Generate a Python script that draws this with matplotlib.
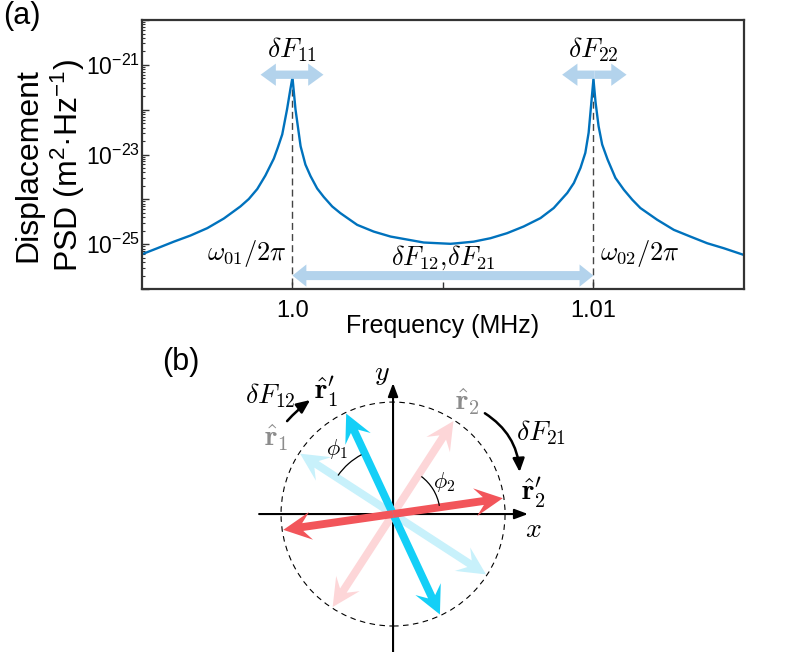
import numpy as np
import matplotlib.pyplot as plt
from matplotlib.patches import Circle, Arc, FancyArrowPatch
from matplotlib.ticker import LogLocator, NullFormatter

plt.rcParams['font.family'] = ['Liberation Sans', 'DejaVu Sans']
plt.rcParams['mathtext.fontset'] = 'cm'
# "custom" math set is only used for the sans tick labels / y label
plt.rcParams['mathtext.rm'] = 'Liberation Sans'
plt.rcParams['mathtext.it'] = 'Liberation Sans:italic'
plt.rcParams['mathtext.bf'] = 'Liberation Sans:bold'

# %% (a) displacement PSD
freq_mhz = [0.99500, 0.99551, 0.99606, 0.99661, 0.99717, 0.99772, 0.99827, 0.99855,
            0.99883, 0.99910, 0.99938, 0.99951, 0.99966, 0.99982, 0.99993, 1.00000,
            1.00010, 1.00027, 1.00043, 1.00060, 1.00082, 1.00104, 1.00132, 1.00159,
            1.00215, 1.00270, 1.00326, 1.00436, 1.00525, 1.00547, 1.00602, 1.00658,
            1.00713, 1.00768, 1.00824, 1.00868, 1.00913, 1.00935, 1.00957, 1.00973,
            1.00984, 1.01000, 1.01007, 1.01017, 1.01029, 1.01047, 1.01073, 1.01101,
            1.01129, 1.01156, 1.01212, 1.01267, 1.01322, 1.01378, 1.01433, 1.01500]
psd = [5.97e-26, 8.13e-26, 1.14e-25, 1.56e-25, 2.28e-25, 3.74e-25, 6.95e-25, 1.02e-24,
       1.70e-24, 3.40e-24, 8.10e-24, 1.41e-23, 2.81e-23, 1.02e-22, 2.86e-22, 5.22e-22,
       1.02e-22, 1.53e-23, 5.97e-24, 3.30e-24, 1.75e-24, 1.13e-24, 6.95e-25, 4.94e-25,
       2.70e-25, 1.91e-25, 1.48e-25, 1.09e-25, 1.02e-25, 1.05e-25, 1.14e-25, 1.36e-25,
       1.76e-25, 2.48e-25, 3.82e-25, 6.40e-25, 1.39e-24, 2.32e-24, 5.04e-24, 1.09e-23,
       3.06e-23, 4.79e-22, 1.46e-22, 4.31e-23, 1.67e-23, 7.73e-24, 3.01e-24, 1.64e-24,
       9.82e-25, 6.40e-25, 3.50e-25, 2.09e-25, 1.48e-25, 1.05e-25, 8.13e-26, 5.75e-26]
peak_freq = [1.0, 1.01]
peak_psd = [5.22e-22, 4.79e-22]
decades = [1e-26, 1e-25, 1e-24, 1e-23, 1e-22, 1e-21, 1e-20]
decade_labels = ['', r'$10^{-25}$', '', r'$10^{-23}$', '', r'$10^{-21}$', '']
xtick_vals = [1.0, 1.005, 1.01]
xtick_labels = ['1.0', '', '1.01']

# %% (b) unit vectors: angle (deg) and colour
vec_angles = [147, 57, 115, 8.2]   # r1, r2, r1', r2'
vec_colors = ['#c8f1fb', '#fdd6d8', '#14cff7', '#f2555a']

blue = '#0072bd'
arrow_blue = '#b3d3ec'


def double_arrow(ax, x0, x1, y, tw=6, hw=15, hl=10):
    # thick two-headed arrow made of two halves
    xm = 0.5 * (x0 + x1)
    for xe in (x0, x1):
        p = FancyArrowPatch((xm, y), (xe, y),
                            arrowstyle=f'simple,head_length={hl},head_width={hw},tail_width={tw}',
                            mutation_scale=1, color=arrow_blue, lw=0,
                            shrinkA=0, shrinkB=0, zorder=3)
        ax.add_patch(p)


fig = plt.figure(figsize=(7.91, 6.52), dpi=100)

# ---------------- (a)
ax = fig.add_axes([0.1795, 0.5567, 0.761, 0.4126])
for f0, p0 in zip(peak_freq, peak_psd):
    ax.plot([f0, f0], [p0, 1e-26], color='#444444', lw=1, dashes=(5, 3), zorder=1)
ax.plot(freq_mhz, psd, color=blue, lw=1.7, zorder=2)
ax.set_yscale('log')
ax.set_xlim(0.995, 1.015)
ax.set_ylim(1e-26, 1e-20)
ax.set_yticks(decades)
ax.set_yticklabels(decade_labels, fontsize=16.5, math_fontfamily='custom')
ax.yaxis.set_minor_locator(LogLocator(base=10, subs=np.arange(2, 10), numticks=100))
ax.yaxis.set_minor_formatter(NullFormatter())
ax.set_xticks(xtick_vals)
ax.set_xticklabels(xtick_labels, fontsize=17)
ax.tick_params(which='both', direction='in', top=False, right=False, color='#333333')
ax.tick_params(which='major', length=5, width=1)
ax.tick_params(which='minor', length=2.5, width=0.8)
ax.tick_params(axis='x', pad=8)
ax.tick_params(axis='y', pad=1.5)
for s in ax.spines.values():
    s.set_linewidth(1.6)
    s.set_color('#333333')

ax.set_xlabel('Frequency (MHz)', fontsize=18, labelpad=-6)
ax.set_ylabel('Displacement\nPSD (m$^2$·Hz$^{-1}$)', fontsize=23,
              math_fontfamily='custom', linespacing=1.2)
ax.yaxis.set_label_coords(-0.091, 0.46)

ax.text(1.0, 10**-20.65, r'$\delta F_{11}$', ha='center', va='center', fontsize=20)
ax.text(1.01, 10**-20.65, r'$\delta F_{22}$', ha='center', va='center', fontsize=20)
double_arrow(ax, 0.99894, 1.00103, 10**-21.22, tw=6, hw=16, hl=11)
double_arrow(ax, 1.00896, 1.01110, 10**-21.22, tw=6, hw=16, hl=11)
double_arrow(ax, 1.0, 1.01, 10**-25.7, tw=6.5, hw=16, hl=10)
ax.text(1.005, 10**-25.31, r'$\delta F_{12},\!\delta F_{21}$', ha='center', va='center', fontsize=19)
ax.text(0.99983, 10**-25.2, r'$\omega_{01}/2\pi$', ha='right', va='center', fontsize=19)
ax.text(1.01023, 10**-25.2, r'$\omega_{02}/2\pi$', ha='left', va='center', fontsize=19)

# ---------------- (b)
axb = fig.add_axes([0.2276, 0.0, 0.5563, 0.4785])
axb.set_xlim(-1.902, 2.027)
axb.set_ylim(-1.232, 1.554)
axb.axis('off')

axb.add_patch(Circle((0, 0), 1.0, fill=False, ls=(0, (5, 4)), lw=0.8, color='k'))
axis_style = dict(arrowstyle='-|>,head_length=0.8,head_width=0.3', lw=1.5, color='k',
                  shrinkA=0, shrinkB=0, mutation_scale=10)
axb.annotate('', xy=(1.205, 0), xytext=(-1.196, 0), arrowprops=axis_style)
axb.annotate('', xy=(0, 1.17), xytext=(0, -1.232), arrowprops=axis_style)

L = 0.99
for k, (ang, col) in enumerate(zip(vec_angles, vec_colors)):
    t = np.deg2rad(ang)
    for sgn in (1, -1):
        axb.arrow(0, 0, sgn * L * np.cos(t), sgn * L * np.sin(t), width=0.07,
                  head_width=0.25, head_length=0.25, overhang=0.3,
                  length_includes_head=True, fc=col, ec='none', lw=0, zorder=2 + k)

axb.add_patch(Arc((0, 0), 1.2, 1.2, theta1=118, theta2=145, lw=0.9, color='k', zorder=7))
axb.add_patch(Arc((0, 0), 0.84, 0.84, theta1=10, theta2=53, lw=0.9, color='k', zorder=7))
axb.text(-0.5, 0.58, r'$\phi_1$', fontsize=16, ha='center', va='center')
axb.text(0.46, 0.29, r'$\phi_2$', fontsize=16, ha='center', va='center')

curve_style = dict(arrowstyle='-|>,head_length=0.8,head_width=0.35', lw=1.8, color='k',
                   shrinkA=0, shrinkB=0, mutation_scale=10)
axb.annotate('', xy=(-0.74, 1.018), xytext=(-0.946, 0.83),
             arrowprops=dict(curve_style, connectionstyle='arc3,rad=-0.05'))
axb.annotate('', xy=(1.13, 0.375), xytext=(0.82, 0.90),
             arrowprops=dict(curve_style, connectionstyle='arc3,rad=-0.25'))

axb.text(-1.10, 1.06, r'$\delta F_{12}$', fontsize=20, ha='center', va='center')
axb.text(1.32, 0.73, r'$\delta F_{21}$', fontsize=20, ha='center', va='center')
axb.text(-0.60, 1.09, r'$\hat{\mathbf{r}}^{\prime}_{\mathbf{1}}$', fontsize=21, ha='center', va='center')
axb.text(1.25, 0.19, r'$\hat{\mathbf{r}}^{\prime}_{\mathbf{2}}$', fontsize=21, ha='center', va='center')
axb.text(-1.04, 0.68, r'$\hat{\mathbf{r}}_{\mathbf{1}}$', fontsize=21, ha='center', va='center', color='#8c8c8c')
axb.text(0.66, 1.0, r'$\hat{\mathbf{r}}_{\mathbf{2}}$', fontsize=21, ha='center', va='center', color='#8c8c8c')
axb.text(1.25, -0.14, r'$x$', fontsize=20, ha='center', va='center')
axb.text(-0.10, 1.25, r'$y$', fontsize=20, ha='center', va='center')

fig.text(0.004, 0.998, '(a)', fontsize=22, va='top', ha='left')
fig.text(162 / 791, 1 - 347 / 652, '(b)', fontsize=22, va='top', ha='left')

fig.savefig('out.png', dpi=100)
